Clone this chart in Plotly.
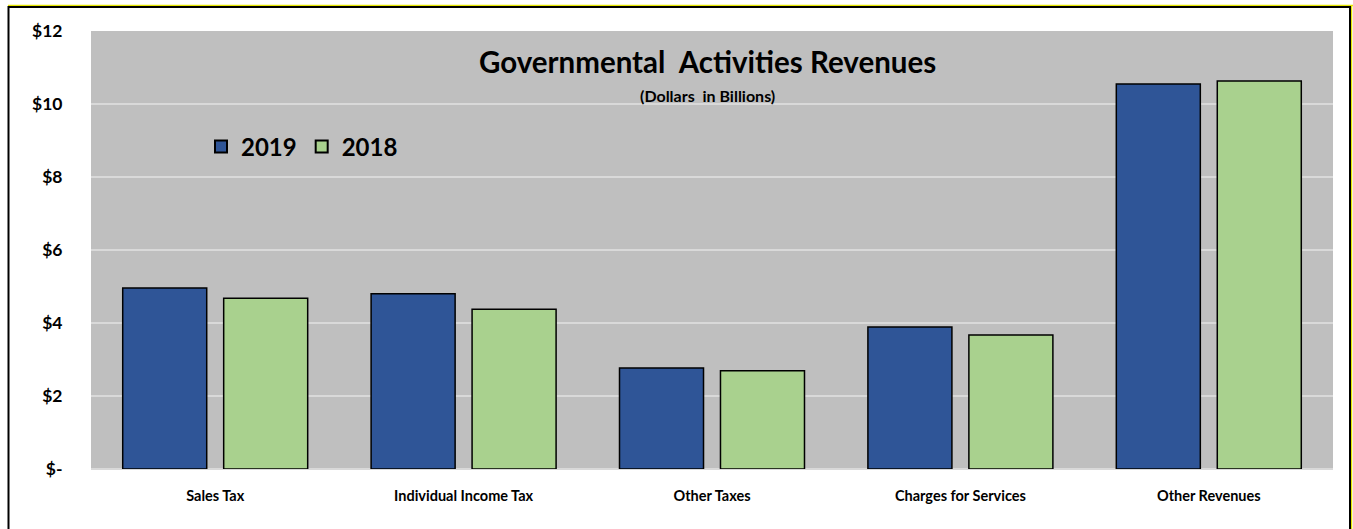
import plotly.graph_objects as go

categories = ["Sales Tax", "Individual Income Tax", "Other Taxes", "Charges for Services", "Other Revenues"]
values_2019 = [4.96, 4.80, 2.77, 3.89, 10.55]
values_2018 = [4.68, 4.38, 2.69, 3.67, 10.63]
tick_vals = [0, 2, 4, 6, 8, 10, 12]
tick_text = ["$-", "$2", "$4", "$6", "$8", "$10", "$12"]

FONT = "Lato"
W, H = 1353, 529
L, R, T, B = 91, 20, 31, 60
pw, ph = W - L - R, H - T - B

def px(x):
    return (x - L) / pw

def py(y):
    return (H - B - y) / ph

fig = go.Figure()
fig.add_trace(go.Bar(name="2019", x=categories, y=values_2019,
                     marker=dict(color="#2F5597", line=dict(color="black", width=1.5))))
fig.add_trace(go.Bar(name="2018", x=categories, y=values_2018,
                     marker=dict(color="#A9D18E", line=dict(color="black", width=1.5))))

fig.update_layout(
    width=W, height=H,
    margin=dict(l=L, r=R, t=T, b=B),
    paper_bgcolor="white",
    plot_bgcolor="#BFBFBF",
    barmode="group",
    bargap=0.187,
    bargroupgap=0.168,
    font=dict(family=FONT, color="black"),
    showlegend=True,
    legend=dict(orientation="h", x=px(201), y=py(147), xanchor="left", yanchor="middle",
                bgcolor="rgba(0,0,0,0)", font=dict(size=24, family=FONT, weight="bold"),
                itemsizing="constant", traceorder="normal", itemwidth=30),
    xaxis=dict(showgrid=False, zeroline=False, showline=False,
               tickfont=dict(size=14.5, family=FONT, weight="bold"),
               ticks="outside", ticklen=14, tickcolor="rgba(0,0,0,0)"),
    yaxis=dict(range=[0, 12], tickvals=tick_vals, ticktext=tick_text,
               showgrid=True, gridcolor="#D9D9D9", gridwidth=1.5,
               zeroline=True, zerolinecolor="#D9D9D9", zerolinewidth=1.5,
               showline=False,
               tickfont=dict(size=17.5, family=FONT, weight="bold"),
               ticks="outside", ticklen=24, tickcolor="rgba(0,0,0,0)"),
    annotations=[
        dict(text="Governmental  Activities Revenues", x=px(707), y=py(61), xref="paper", yref="paper",
             showarrow=False, xanchor="center", yanchor="middle",
             font=dict(size=29.5, family=FONT, weight="bold", color="black")),
        dict(text="(Dollars  in Billions)", x=px(707), y=py(95), xref="paper", yref="paper",
             showarrow=False, xanchor="center", yanchor="middle",
             font=dict(size=16, family=FONT, weight="bold", color="black")),
    ],
    shapes=[
        dict(type="line", xref="paper", yref="paper", x0=px(8), x1=px(1353), y0=py(5.5), y1=py(5.5),
             line=dict(color="#E6E600", width=1.5), layer="above"),
        dict(type="line", xref="paper", yref="paper", x0=px(1351.5), x1=px(1351.5), y0=py(5), y1=py(560),
             line=dict(color="#E6E600", width=1.5), layer="above"),
        dict(type="rect", xref="paper", yref="paper", x0=px(8.5), x1=px(1350), y0=py(560), y1=py(7),
             line=dict(color="black", width=2), fillcolor="rgba(0,0,0,0)", layer="above"),
    ],
)

fig.write_html("out.html", config={"displayModeBar": False},
               post_script="document.body.style.margin='0';document.body.style.overflow='hidden';")
